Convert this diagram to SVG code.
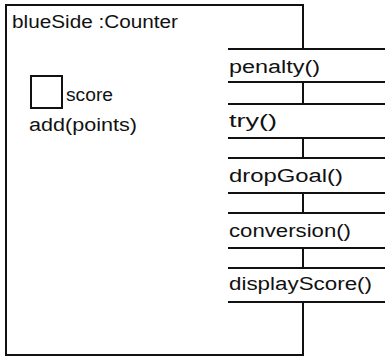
<svg xmlns="http://www.w3.org/2000/svg" width="385" height="357" viewBox="0 0 385 357">
<style>
.ln{stroke:#111;stroke-width:2;fill:none}
.t{font-family:"Liberation Sans",Arial,sans-serif;font-size:18px;fill:#111}
</style>
<rect width="385" height="357" fill="#fff"/>
<g id="counter">
<path class="ln" d="M303,49 V5 H6 V355 H303 V302"/>
<text class="t" x="12" y="28" textLength="166" lengthAdjust="spacingAndGlyphs">blueSide :Counter</text>
<rect class="ln" x="31" y="76" width="31" height="32"/>
<text class="t" x="66" y="101" textLength="47" lengthAdjust="spacingAndGlyphs">score</text>
<text class="t" x="29" y="131" textLength="108" lengthAdjust="spacingAndGlyphs">add(points)</text>
</g>
<g id="penalty">
<path class="ln" d="M228,49 H385 M228,82 H385"/>
<text class="t" x="229" y="73" textLength="91" lengthAdjust="spacingAndGlyphs">penalty()</text>
</g>
<g id="try">
<path class="ln" d="M228,104 H385 M228,138 H385"/>
<text class="t" x="229" y="127" textLength="48" lengthAdjust="spacingAndGlyphs">try()</text>
</g>
<g id="dropGoal">
<path class="ln" d="M228,158 H385 M228,193 H385"/>
<text class="t" x="229" y="182" textLength="114" lengthAdjust="spacingAndGlyphs">dropGoal()</text>
</g>
<g id="conversion">
<path class="ln" d="M228,213 H385 M228,248 H385"/>
<text class="t" x="229" y="237" textLength="122" lengthAdjust="spacingAndGlyphs">conversion()</text>
</g>
<g id="displayScore">
<path class="ln" d="M228,268 H385 M228,302 H385"/>
<text class="t" x="229" y="290" textLength="143" lengthAdjust="spacingAndGlyphs">displayScore()</text>
</g>
<g id="connectors">
<path class="ln" d="M303,82 V104 M303,138 V158 M303,193 V213 M303,248 V268"/>
</g>
</svg>
